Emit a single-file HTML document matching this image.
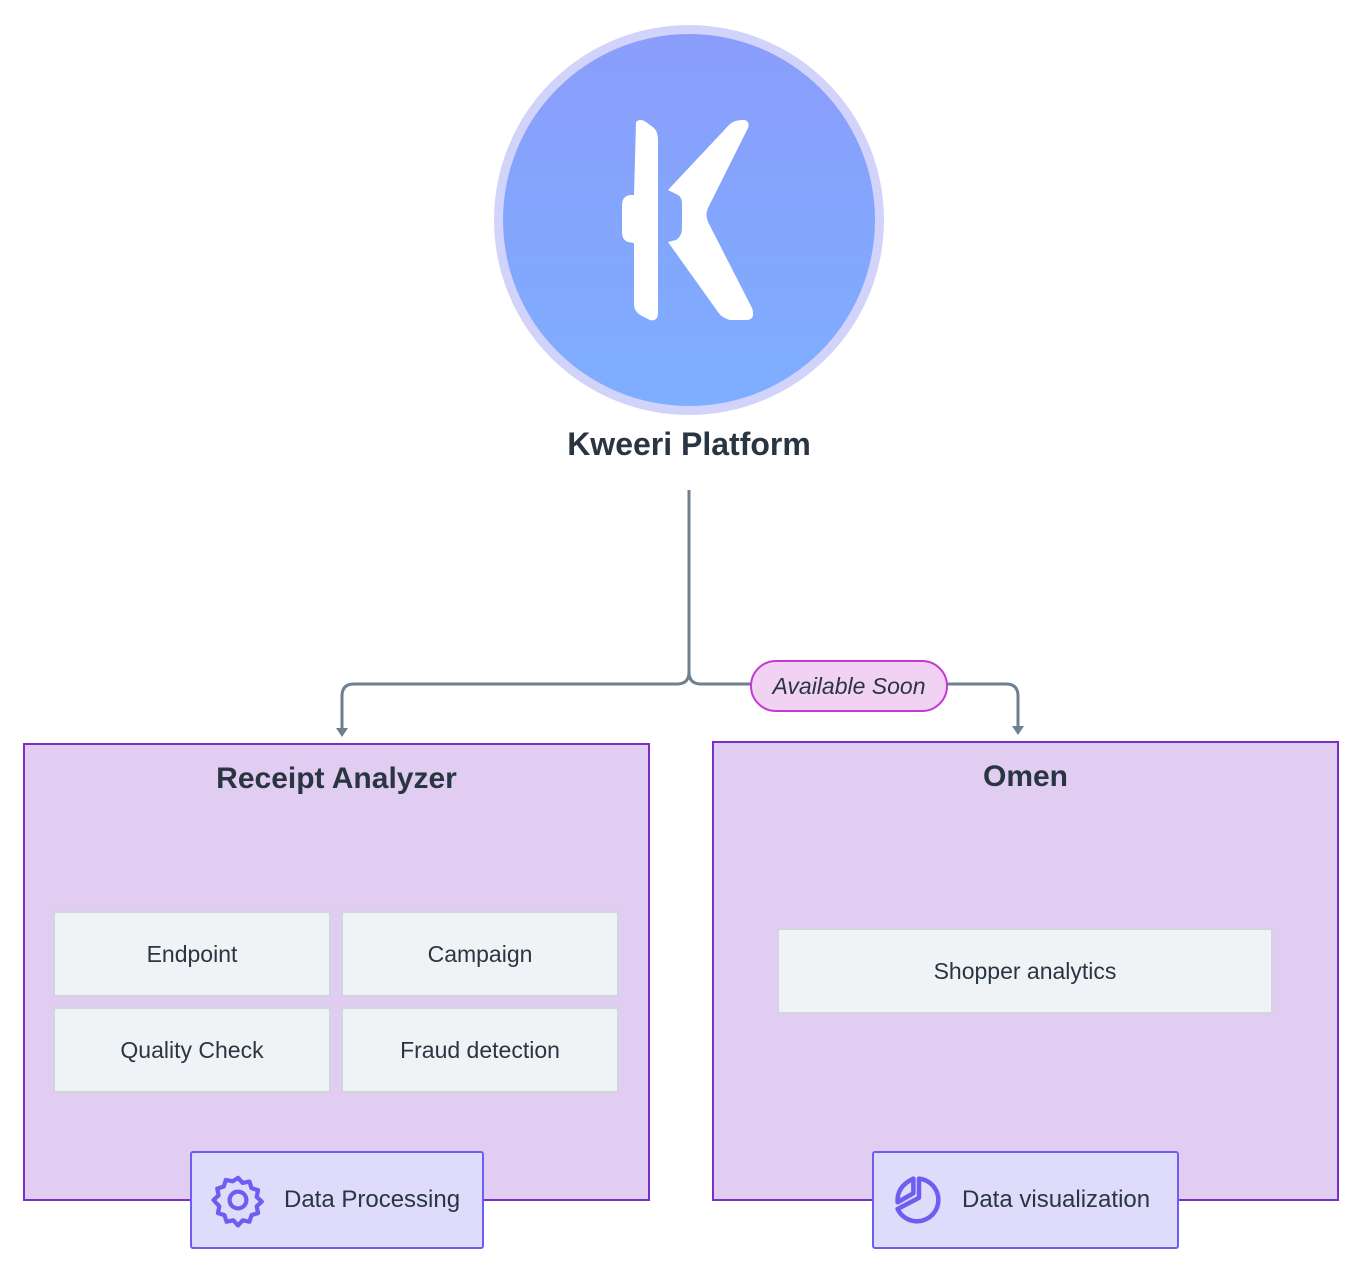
<!DOCTYPE html>
<html><head><meta charset="utf-8"><style>
body{margin:0;width:1361px;height:1272px;background:#fff;position:relative;font-family:"Liberation Sans",sans-serif;color:#2a3542;overflow:hidden}
.a{position:absolute;box-sizing:border-box}
.grp{background:#e1cdf1;border:2px solid #7b2fc9}
.title{font-weight:bold;font-size:30px;text-align:center}
.cell{background:#eff3f6;border:2px solid #d0d6de;display:flex;align-items:center;justify-content:center;font-size:23px}
.tag{background:#dfdbfb;border:2px solid #6d5ef0;border-radius:3px;display:flex;align-items:center;font-size:24px}
</style></head><body>
<svg class="a" style="left:0;top:0" width="1361" height="1272">
<defs><linearGradient id="g" x1="0" y1="0" x2="0" y2="1"><stop offset="0" stop-color="#8a9dfb"/><stop offset="1" stop-color="#7eaeff"/></linearGradient></defs>
<circle cx="689" cy="220" r="195" fill="#d2d3fb"/>
<circle cx="689" cy="220" r="186" fill="url(#g)"/>
<path d="M636 122 Q640 118 646 122 L654 128 Q658 132 658 140 L658 312 Q658 322 650 320 L642 316 Q634 312 634 304 L634 243 L628 242 Q622 240 622 232 L622 206 Q622 196 630 195 L634 195 Z" fill="#fff"/>
<path d="M668 190 L729 125 Q734 120 742 120 L745 120 Q750 122 748 128 L708 208 Q705 214 708 222 L752 308 Q756 320 746 320 L730 320 Q722 318 718 312 L668 242 L676 240 Q682 236 682 228 L682 204 Q682 196 676 194 Z" fill="#fff"/>
<path d="M689 490 V672 Q689 684 677 684 H354 Q342 684 342 696 V730" fill="none" stroke="#6e7f8f" stroke-width="3"/>
<path d="M689 672 Q689 684 701 684 H1006 Q1018 684 1018 696 V728" fill="none" stroke="#6e7f8f" stroke-width="3"/>
<path d="M336 728 L348 728 L342 737 Z" fill="#6e7f8f"/>
<path d="M1012 726 L1024 726 L1018 735 Z" fill="#6e7f8f"/>
</svg>
<div class="a" style="left:0;width:1378px;top:426px;font-weight:bold;font-size:32px;text-align:center">Kweeri Platform</div>
<div class="a" style="left:750px;top:660px;width:198px;height:52px;background:#f1d2f3;border:2px solid #c23ad1;border-radius:26px;font-style:italic;font-size:23px;display:flex;align-items:center;justify-content:center">Available Soon</div>
<div class="a grp" style="left:23px;top:743px;width:627px;height:458px"></div>
<div class="a title" style="left:23px;top:762px;width:627px">Receipt Analyzer</div>
<div class="a cell" style="left:53px;top:911px;width:278px;height:86px">Endpoint</div>
<div class="a cell" style="left:341px;top:911px;width:278px;height:86px">Campaign</div>
<div class="a cell" style="left:53px;top:1007px;width:278px;height:86px">Quality Check</div>
<div class="a cell" style="left:341px;top:1007px;width:278px;height:86px">Fraud detection</div>
<div class="a grp" style="left:712px;top:741px;width:627px;height:460px"></div>
<div class="a title" style="left:712px;top:760px;width:627px">Omen</div>
<div class="a cell" style="left:777px;top:928px;width:496px;height:86px">Shopper analytics</div>
<div class="a tag" style="left:190px;top:1151px;width:294px;height:98px">
<svg style="margin-left:18px" width="56" height="56" viewBox="0 0 24 24" fill="none" stroke="#6d5ef0" stroke-width="1.8" stroke-linejoin="round"><path d="M12 2.5l2 2.2 2.9-.6.9 2.8 2.8.9-.6 2.9 2.2 2-2.2 2 .6 2.9-2.8.9-.9 2.8-2.9-.6-2 2.2-2-2.2-2.9.6-.9-2.8-2.8-.9.6-2.9L1.5 12l2.2-2-.6-2.9 2.8-.9.9-2.8 2.9.6z"/><circle cx="12" cy="12" r="3.6"/></svg>
<span style="margin-left:18px">Data Processing</span></div>
<div class="a tag" style="left:872px;top:1151px;width:307px;height:98px">
<svg style="margin-left:18px" width="54" height="54" viewBox="0 0 24 24" fill="none" stroke="#6d5ef0" stroke-width="2" stroke-linejoin="round"><path d="M12 2.5A9.5 9.5 0 1 1 2.5 16L12 11z"/><path d="M9.5 2.5V9L2.5 13Q2 6 9.5 2.5z"/></svg>
<span style="margin-left:16px">Data visualization</span></div>
</body></html>
